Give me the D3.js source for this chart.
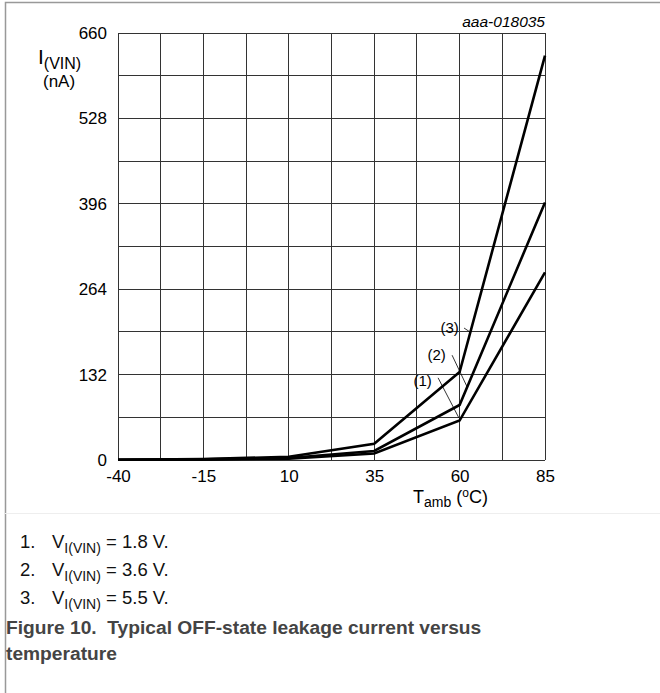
<!DOCTYPE html>
<html>
<head>
<meta charset="utf-8">
<script src="https://cdn.jsdelivr.net/npm/d3@7"></script>
<style>
  body { margin: 0; background: #fff; }
  svg text { font-family: "Liberation Sans", Arial, sans-serif; }
</style>
</head>
<body>
<div class="chart"></div>
<script>
// data
const temps = [-40, -15, 10, 35, 60, 85];
const v18 = [0.5, 1, 2, 10, 61, 290];
const v36 = [0.5, 1, 3, 14, 85, 398];
const v55 = [0.5, 1.5, 5, 25, 136, 625];
const xTicks = [-40, -15, 10, 35, 60, 85];
const yTicks = [0, 132, 264, 396, 528, 660];
// label, text x/y, leader from x/y to x/y (data units)
const notes = [
  ['(1)', 46.5, 114, 53.7, 127, 59.8, 65],
  ['(2)', 50.6, 155, 57.8, 162, 62.2, 113],
  ['(3)', 54.4, 196, 61.3, 204, 63.0, 198]
];
const legend = ['1.8', '3.6', '5.5'];

const W = 660, H = 693;
const plot = { left: 118, top: 33, right: 545, bottom: 460 };

const svg = d3.select('.chart').append('svg')
  .attr('width', W).attr('height', H);

// outer frame
svg.append('path')
  .attr('d', `M5.5,${H} V2.5 H${W}`)
  .attr('fill', 'none').attr('stroke', '#999').attr('stroke-width', 1.5);
svg.append('line')
  .attr('x1', 5).attr('x2', W).attr('y1', 513.5).attr('y2', 513.5)
  .attr('stroke', '#eee');

const x = d3.scaleLinear().domain([-40, 85]).range([plot.left, plot.right]);
const y = d3.scaleLinear().domain([0, 660]).range([plot.bottom, plot.top]);

/* grid */
const grid = svg.append('g').attr('stroke', '#333').attr('stroke-width', 1)
  .attr('shape-rendering', 'crispEdges');
grid.selectAll('.vx').data(d3.range(-40, 85.01, 12.5)).enter().append('line')
  .attr('x1', d => x(d)).attr('x2', d => x(d))
  .attr('y1', plot.top).attr('y2', plot.bottom);
grid.selectAll('.hy').data(d3.range(0, 660.01, 66)).enter().append('line')
  .attr('y1', d => y(d)).attr('y2', d => y(d))
  .attr('x1', plot.left).attr('x2', plot.right);

/* axes (labels only) */
const yAxis = svg.append('g')
  .attr('transform', `translate(${plot.left},0)`)
  .call(d3.axisLeft(y).tickValues(yTicks).tickSize(0).tickPadding(11).tickFormat(d => String(d)));
const xAxis = svg.append('g')
  .attr('transform', `translate(0,${plot.bottom})`)
  .call(d3.axisBottom(x).tickValues(xTicks).tickSize(0).tickPadding(10).tickFormat(d => String(d)));
[xAxis, yAxis].forEach(a => {
  a.select('.domain').remove();
  a.attr('font-size', 17).attr('font-family', '"Liberation Sans", Arial, sans-serif');
  a.selectAll('text').attr('fill', '#000');
});

/* curves */
const line = d3.line().x((d, i) => x(temps[i])).y(d => y(d));
svg.selectAll('.curve').data([v18, v36, v55]).enter().append('path')
  .attr('d', line)
  .attr('fill', 'none').attr('stroke', '#000').attr('stroke-width', 2.6)
  .attr('stroke-linejoin', 'miter');

/* curve labels */
notes.forEach(n => {
  svg.append('line')
    .attr('x1', x(n[3])).attr('y1', y(n[4])).attr('x2', x(n[5])).attr('y2', y(n[6]))
    .attr('stroke', '#000').attr('stroke-width', 0.8);
  svg.append('text').attr('x', x(n[1])).attr('y', y(n[2]))
    .attr('font-size', 15).text(n[0]);
});

/* axis titles */
const yl = svg.append('text').attr('x', 38).attr('y', 64).attr('font-size', 21);
yl.append('tspan').text('I');
yl.append('tspan').attr('font-size', 16).attr('dy', 5).text('(VIN)');
svg.append('text').attr('x', 43).attr('y', 87).attr('font-size', 17).text('(nA)');

const xl = svg.append('text').attr('x', 413).attr('y', 503).attr('font-size', 18);
xl.append('tspan').text('T');
xl.append('tspan').attr('font-size', 14).attr('dy', 4).text('amb');
xl.append('tspan').attr('dy', -4).text(' (');
xl.append('tspan').attr('font-size', 12).attr('dy', -6).text('o');
xl.append('tspan').attr('dy', 6).text('C)');

svg.append('text').attr('x', plot.right).attr('y', 27)
  .attr('text-anchor', 'end').attr('font-size', 15.5).attr('font-style', 'italic')
  .text('aaa-018035');

/* legend */
legend.forEach((v, i) => {
  const t = svg.append('text').attr('x', 20).attr('y', 548 + i * 28)
    .attr('font-size', 18.5).attr('fill', '#111');
  t.append('tspan').text((i + 1) + '.');
  t.append('tspan').attr('x', 52).text('V');
  t.append('tspan').attr('font-size', 14).attr('dy', 5).text('I(VIN)');
  t.append('tspan').attr('dy', -5).text(' = ' + v + ' V.');
});

/* caption */
const cap = svg.append('g').attr('font-weight', 'bold').attr('fill', '#444');
cap.append('text').attr('x', 6).attr('y', 634).attr('font-size', 19.2)
  .text('Figure 10.\u00a0\u00a0Typical OFF-state leakage current versus');
cap.append('text').attr('x', 6).attr('y', 660).attr('font-size', 19.2)
  .text('temperature');
</script>
</body>
</html>
